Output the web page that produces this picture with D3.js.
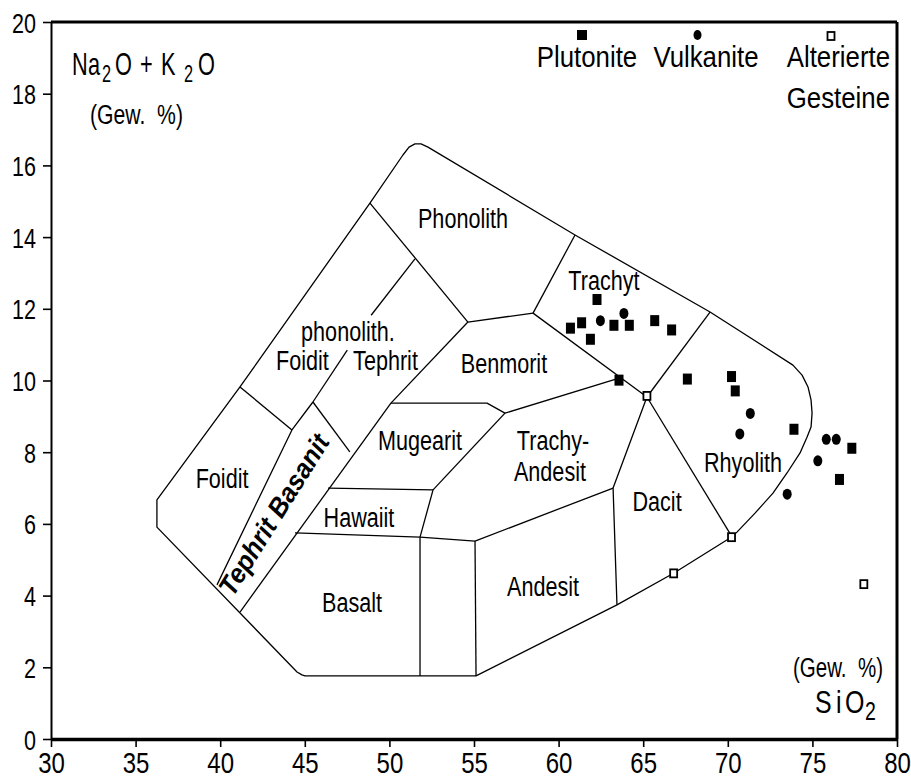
<!DOCTYPE html>
<html>
<head>
<meta charset="utf-8">
<script src="https://cdn.jsdelivr.net/npm/d3@7"></script>
<style>
  html, body { margin: 0; padding: 0; background: #fff; }
  svg { display: block; }
  text { font-family: "Liberation Sans", Arial, sans-serif; fill: #000; }
</style>
</head>
<body>
<svg id="chart" width="911" height="783"></svg>
<script>
// ---- axis ticks ----
const xTicks = [30, 35, 40, 45, 50, 55, 60, 65, 70, 75, 80];
const yTicks = [0, 2, 4, 6, 8, 10, 12, 14, 16, 18, 20];

// ---- TAS field outline (SiO2, Na2O+K2O), closed ----
const outerBoundary = [
  [45.01, 1.76], [55.12, 1.76], [63.45, 3.74], [66.82, 4.63], [70.25, 5.64],
  [70.54, 5.77], [71.61, 6.30], [72.67, 6.86], [73.50, 7.42], [74.27, 7.98],
  [74.68, 8.42], [74.92, 8.70], [74.98, 9.09], [74.92, 9.46], [74.74, 9.82],
  [74.39, 10.15], [73.85, 10.43], [68.95, 11.91], [60.97, 14.06], [52.28, 16.51],
  [51.87, 16.60], [51.51, 16.60], [51.16, 16.51], [50.80, 16.29], [48.85, 14.95],
  [41.17, 9.82], [36.26, 6.67], [36.26, 5.91], [44.54, 1.87], [44.83, 1.79]
];

// ---- internal field boundaries ----
const fieldLines = [
  [[41.17, 9.82], [44.24, 8.62]],                                   // Foidit / phonolith. Foidit
  [[39.81, 4.30], [44.24, 8.62], [45.48, 9.40]],                    // Foidit / Tephrit Basanit
  [[45.48, 9.40], [47.51, 10.85]],                                  // phonolith. Foidit / Tephrit (lower)
  [[48.92, 11.82], [51.51, 13.39]],                                 // phonolith. Foidit / Tephrit (upper)
  [[45.48, 9.40], [47.66, 8.01]],                                   // Tephrit Basanit top
  [[41.17, 3.54], [50.09, 9.37]],                                   // Tephrit Basanit right edge
  [[48.85, 14.95], [54.64, 11.63]],                                 // Phonolith lower left
  [[54.64, 11.63], [50.09, 9.37]],                                  // Benmorit left
  [[54.64, 11.63], [58.49, 11.88]],                                 // Benmorit / Phonolith
  [[58.49, 11.88], [60.97, 14.06]],                                 // Phonolith / Trachyt
  [[58.49, 11.88], [65.22, 9.54]],                                  // Benmorit / Trachyt
  [[65.22, 9.54], [68.95, 11.91]],                                  // Trachyt / Rhyolith
  [[65.22, 9.54], [70.25, 5.64]],                                   // Dacit / Rhyolith
  [[50.09, 9.37], [55.77, 9.37], [56.83, 9.09], [63.63, 10.07]],    // Mugearit / Trachy-Andesit top
  [[65.22, 9.54], [63.22, 7.00], [63.45, 3.74]],                    // Dacit left
  [[56.83, 9.09], [52.58, 6.95]],                                   // Mugearit / Trachy-Andesit
  [[46.37, 7.00], [52.58, 6.95]],                                   // Mugearit / Hawaiit
  [[52.58, 6.95], [51.81, 5.63]],                                   // Hawaiit right
  [[44.42, 5.75], [51.81, 5.63], [55.06, 5.52]],                    // Hawaiit / Basalt
  [[51.81, 5.63], [51.81, 1.76]],                                   // Basalt right
  [[55.06, 5.52], [55.12, 1.76]],                                   // Andesit left
  [[55.06, 5.52], [63.22, 7.00]]                                    // Andesit top
];

// ---- field names (anchor in SiO2 / alkali units) ----
const fieldNames = ["Phonolith", "Trachyt", "phonolith.", "Foidit", "Tephrit", "Benmorit",
  "Mugearit", "Trachy-", "Andesit", "Hawaiit", "Basalt", "Andesit", "Dacit", "Rhyolith", "Foidit"];
const fieldAnchors = [[54.35, 14.25], [62.68, 12.52], [47.55, 11.10], [44.86, 10.29], [49.77, 10.29],
  [56.77, 10.21], [51.81, 8.06], [59.67, 8.06], [59.49, 7.20], [48.20, 5.91], [47.79, 3.54],
  [59.08, 3.99], [65.82, 6.36], [70.90, 7.45], [40.11, 7.00]];
const stripName = "Tephrit Basanit";
const stripAnchor = [43.18, 6.25];

// ---- samples: [SiO2, Na2O+K2O] ----
const plutonite = [
  [62.27, 12.26], [60.70, 11.46], [61.36, 11.61], [61.88, 11.15], [63.27, 11.54],
  [64.18, 11.54], [65.68, 11.67], [66.68, 11.41], [63.57, 10.01], [67.61, 10.04],
  [70.22, 10.11], [70.44, 9.71], [73.91, 8.64], [77.33, 8.11], [76.60, 7.24]
];
const vulkanite = [
  [63.86, 11.87], [62.47, 11.67], [71.33, 9.08], [70.71, 8.51],
  [75.82, 8.36], [76.41, 8.36], [75.32, 7.76], [73.51, 6.83]
];
const alterierte = [
  [65.22, 9.57], [70.22, 5.63], [66.80, 4.62], [78.04, 4.32]
];

const legendNames = ["Plutonite", "Vulkanite", "Alterierte"];

// ---- drawing ----
const svg = d3.select("#chart");
const x = d3.scaleLinear().domain([30, 80]).range([51, 897]);
const y = d3.scaleLinear().domain([0, 20]).range([739, 22]);
const line = d3.line().x(d => x(d[0])).y(d => y(d[1]));

// squeeze glyphs horizontally to get a condensed face
function narrow(sel, k) {
  sel.each(function () {
    const w = this.getComputedTextLength();
    d3.select(this).attr("textLength", w * k).attr("lengthAdjust", "spacingAndGlyphs");
  });
  return sel;
}

// a chemical formula set in one condensed text: parts = [string, absoluteX, isSubscript]
function formula(x0, baseline, size, subSize, k, parts) {
  const t = svg.append("g")
    .attr("transform", `translate(${x0},${baseline}) scale(${k},1)`)
    .append("text").attr("font-size", size);
  parts.forEach(([s, px, sub]) => {
    t.append("tspan")
      .attr("x", (px - x0) / k)
      .attr("y", sub ? 7 : 0)
      .attr("font-size", sub ? subSize : size)
      .text(s);
  });
}

// field outline and boundaries
svg.append("path")
  .attr("d", line(outerBoundary) + "Z")
  .attr("fill", "none").attr("stroke", "#000").attr("stroke-width", 1.3)
  .attr("stroke-linejoin", "round");

svg.append("g").selectAll("path").data(fieldLines).join("path")
  .attr("d", d => line(d))
  .attr("fill", "none").attr("stroke", "#000").attr("stroke-width", 1.3)
  .attr("stroke-linejoin", "round");

// field names
narrow(svg.append("g").selectAll("text").data(fieldNames).join("text")
  .attr("x", (d, i) => x(fieldAnchors[i][0]))
  .attr("y", (d, i) => y(fieldAnchors[i][1]))
  .attr("text-anchor", "middle")
  .attr("font-size", 27)
  .text(d => d), 0.8);

svg.append("text")
  .attr("transform", `translate(${x(stripAnchor[0])},${y(stripAnchor[1])}) rotate(-58)`)
  .attr("text-anchor", "middle")
  .attr("dominant-baseline", "central")
  .attr("font-size", 27)
  .attr("font-weight", "bold")
  .attr("font-style", "italic")
  .attr("textLength", 184).attr("lengthAdjust", "spacingAndGlyphs")
  .text(stripName);

// axes
const yAxis = d3.axisLeft(y).tickValues(yTicks).tickSize(8).tickSizeOuter(0).tickPadding(7);
const xAxis = d3.axisBottom(x).tickValues(xTicks).tickSize(8).tickSizeOuter(0).tickPadding(5);

const gy = svg.append("g").attr("transform", `translate(${x(30)},0)`).call(yAxis);
gy.select(".domain").attr("stroke-width", 2);
gy.selectAll(".tick line").attr("stroke-width", 1.6);
narrow(gy.selectAll(".tick text").attr("font-size", 28).attr("font-family", null).attr("dy", "0.36em"), 0.77);

const gx = svg.append("g").attr("transform", `translate(0,${y(0)})`).call(xAxis);
gx.select(".domain").attr("stroke-width", 3.5);
gx.selectAll(".tick line").attr("stroke-width", 1.6);
narrow(gx.selectAll(".tick text").attr("font-size", 30).attr("font-family", null), 0.8);

// frame top and right
svg.append("line").attr("x1", x(30)).attr("x2", x(80)).attr("y1", y(20)).attr("y2", y(20))
  .attr("stroke", "#000").attr("stroke-width", 3);
svg.append("line").attr("x1", x(80)).attr("x2", x(80)).attr("y1", y(20)).attr("y2", y(0))
  .attr("stroke", "#000").attr("stroke-width", 3);

// samples
svg.append("g").selectAll("rect").data(plutonite).join("rect")
  .attr("x", d => x(d[0]) - 4.5).attr("y", d => y(d[1]) - 5.5)
  .attr("width", 9).attr("height", 11).attr("fill", "#000");

svg.append("g").selectAll("ellipse").data(vulkanite).join("ellipse")
  .attr("cx", d => x(d[0])).attr("cy", d => y(d[1]))
  .attr("rx", 4.5).attr("ry", 5.5).attr("fill", "#000");

svg.append("g").selectAll("rect").data(alterierte).join("rect")
  .attr("x", d => x(d[0]) - 3.5).attr("y", d => y(d[1]) - 4)
  .attr("width", 7).attr("height", 8)
  .attr("fill", "#fff").attr("stroke", "#000").attr("stroke-width", 1.8);

// legend
const lg = svg.append("g");
lg.append("rect").attr("x", 577).attr("y", 30).attr("width", 10).attr("height", 10).attr("fill", "#000");
lg.append("ellipse").attr("cx", 697.5).attr("cy", 35).attr("rx", 4).attr("ry", 5).attr("fill", "#000");
lg.append("rect").attr("x", 827.5).attr("y", 32).attr("width", 7).attr("height", 8)
  .attr("fill", "#fff").attr("stroke", "#000").attr("stroke-width", 1.8);
const legendText = lg.selectAll("text.name").data(legendNames).join("text")
  .attr("class", "name")
  .attr("x", (d, i) => [587, 706, 890][i]).attr("y", 67)
  .attr("text-anchor", (d, i) => i === 2 ? "end" : "middle")
  .attr("font-size", 30).text(d => d);
narrow(legendText, 0.86);
narrow(lg.append("text").attr("x", 890).attr("y", 108).attr("text-anchor", "end")
  .attr("font-size", 30).text("Gesteine"), 0.86);

// axis titles
formula(72, 75, 32, 24, 0.68, [["N", 72], ["a", 88], ["2", 102, true], ["O", 115], ["+", 140], ["K", 161], ["2", 184, true], ["O", 198]]);

svg.append("text").attr("x", 90).attr("y", 124).attr("font-size", 27)
  .attr("textLength", 93).attr("lengthAdjust", "spacingAndGlyphs")
  .text("(Gew.\u00a0\u00a0%)");

svg.append("text").attr("x", 793).attr("y", 677).attr("font-size", 27)
  .attr("textLength", 90).attr("lengthAdjust", "spacingAndGlyphs")
  .text("(Gew.\u00a0\u00a0%)");

formula(815, 713, 32, 25, 0.78, [["S", 815], ["i", 836], ["O", 845], ["2", 865, true]]);
</script>
</body>
</html>
